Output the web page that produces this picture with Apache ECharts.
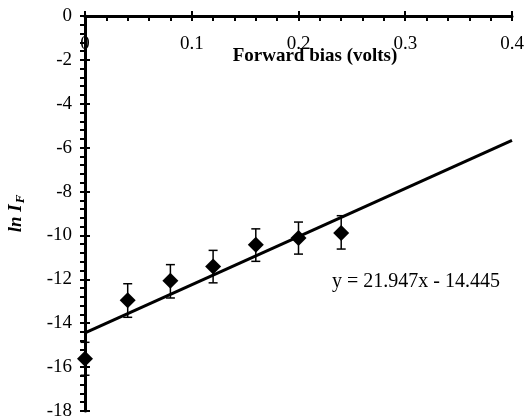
<!DOCTYPE html>
<html>
<head>
<meta charset="utf-8">
<script src="https://cdn.jsdelivr.net/npm/echarts@6/dist/echarts.min.js"></script>
<style>
    html, body { margin: 0; padding: 0; background: #fff; }
    #main { width: 526px; height: 418px; }
</style>
</head>
<body>
<div id="main"></div>
<script>
// forward bias (volts) and ln I_F
var biasV = [0, 0.04, 0.08, 0.12, 0.16, 0.20, 0.24];
var lnIF = [-15.62, -12.95, -12.06, -11.41, -10.42, -10.12, -9.89];
var errTop = [-14.87, -12.20, -11.33, -10.68, -9.70, -9.39, -9.10];
var errBot = [-16.37, -13.73, -12.85, -12.16, -11.18, -10.85, -10.62];

// linear fit  y = 21.947x - 14.445, end points
var fitX = [0, 0.4];
var fitY = [-14.445, -5.666];
var fitLabel = 'y = 21.947x - 14.445';

var serif = '"Liberation Serif", "Times New Roman", serif';

var pts = [];
var errs = [];
for (var i = 0; i < biasV.length; i++) {
    pts.push([biasV[i], lnIF[i]]);
    errs.push([biasV[i], errBot[i], errTop[i]]);
}
var fit = [];
for (var i = 0; i < fitX.length; i++) {
    fit.push([fitX[i], fitY[i]]);
}

function renderErr(params, api) {
    var x = api.value(0);
    var lo = api.coord([x, api.value(1)]);
    var hi = api.coord([x, api.value(2)]);
    var w = 4.5;
    var st = { stroke: '#000', lineWidth: 1.5 };
    return {
        type: 'group',
        children: [
            { type: 'line', shape: { x1: lo[0], y1: lo[1], x2: hi[0], y2: hi[1] }, style: st },
            { type: 'line', shape: { x1: lo[0] - w, y1: lo[1], x2: lo[0] + w, y2: lo[1] }, style: st },
            { type: 'line', shape: { x1: hi[0] - w, y1: hi[1], x2: hi[0] + w, y2: hi[1] }, style: st }
        ]
    };
}

var chart = echarts.init(document.getElementById('main'));

var tickStyle = { color: '#000', width: 2 };

var option = {
    animation: false,
    grid: { left: 85, top: 16, right: 14, bottom: 7, containLabel: false, outerBoundsMode: 'none' },
    xAxis: [{
        // main axis along y = 0 (top), labels and minor ticks hang below
        type: 'value',
        position: 'top',
        min: 0, max: 0.4, interval: 0.1,
        axisLine: { show: true, onZero: false, lineStyle: { color: '#000', width: 3 } },
        axisTick: { show: true, inside: true, length: 5, lineStyle: tickStyle },
        minorTick: { show: true, splitNumber: 5, length: 5, lineStyle: tickStyle },
        axisLabel: { inside: true, color: '#000', fontFamily: serif, fontSize: 19, margin: 19 },
        splitLine: { show: false },
        minorSplitLine: { show: false }
    }, {
        // upper half of the crossing major ticks
        type: 'value',
        position: 'top',
        min: 0, max: 0.4, interval: 0.1,
        axisLine: { show: false, onZero: false },
        axisTick: { show: true, length: 5, lineStyle: tickStyle },
        axisLabel: { show: false },
        splitLine: { show: false }
    }],
    yAxis: [{
        type: 'value',
        position: 'left',
        min: -18, max: 0, interval: 2,
        name: '{a|ln I}{b|F}',
        nameLocation: 'middle',
        nameGap: 58,
        nameTextStyle: {
            rich: {
                a: { fontFamily: serif, fontSize: 19, fontWeight: 'bold', fontStyle: 'italic', color: '#000' },
                b: { fontFamily: serif, fontSize: 13, fontWeight: 'bold', fontStyle: 'italic', color: '#000', padding: [8, 0, 0, 1] }
            }
        },
        axisLine: { show: true, onZero: false, lineStyle: { color: '#000', width: 3 } },
        axisTick: { show: true, length: 5, lineStyle: tickStyle },
        minorTick: { show: true, splitNumber: 5, length: 5, lineStyle: tickStyle },
        axisLabel: { color: '#000', fontFamily: serif, fontSize: 19, margin: 13 },
        splitLine: { show: false },
        minorSplitLine: { show: false }
    }, {
        // right half of the crossing major ticks
        type: 'value',
        position: 'left',
        min: -18, max: 0, interval: 2,
        axisLine: { show: false, onZero: false },
        axisTick: { show: true, inside: true, length: 5, lineStyle: tickStyle },
        axisLabel: { show: false },
        splitLine: { show: false }
    }],
    graphic: [{
        type: 'text',
        x: 315, y: 56,
        style: {
            text: 'Forward bias (volts)',
            font: 'bold 19px ' + serif,
            fill: '#000',
            align: 'center', verticalAlign: 'middle',
            textAlign: 'center', textVerticalAlign: 'middle'
        }
    }, {
        type: 'text',
        x: 416, y: 282,
        style: {
            text: fitLabel,
            font: '20px ' + serif,
            fill: '#000',
            align: 'center', verticalAlign: 'middle',
            textAlign: 'center', textVerticalAlign: 'middle'
        }
    }],
    series: [{
        name: 'fit',
        type: 'line',
        data: fit,
        symbol: 'none',
        lineStyle: { color: '#000', width: 3 },
        z: 2
    }, {
        name: 'err',
        type: 'custom',
        renderItem: renderErr,
        data: errs,
        z: 3
    }, {
        name: 'ln IF',
        type: 'scatter',
        data: pts,
        symbol: 'diamond',
        symbolSize: [16, 16],
        itemStyle: { color: '#000', opacity: 1 },
        z: 4
    }]
};

chart.setOption(option);
</script>
</body>
</html>
